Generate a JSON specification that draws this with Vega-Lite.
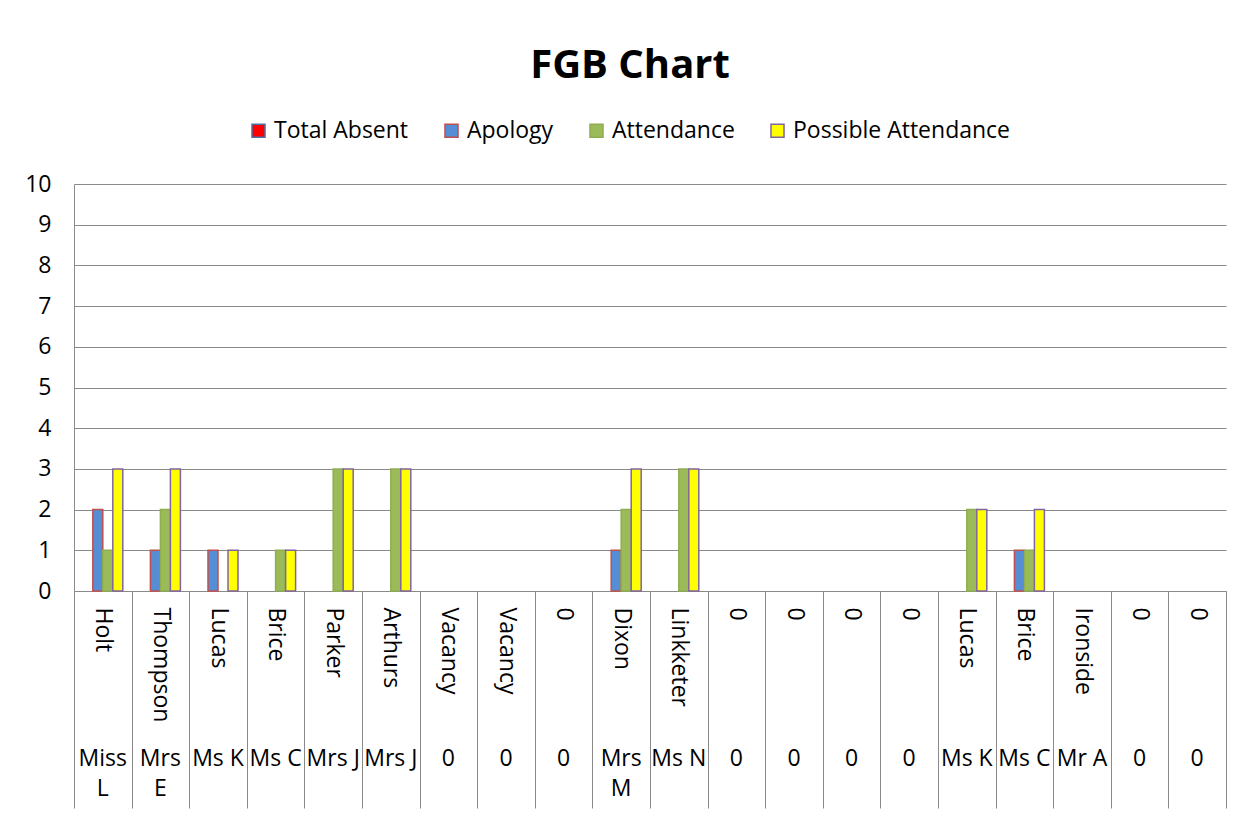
{
  "$schema": "https://vega.github.io/schema/vega-lite/v6.json",
  "width": 1152,
  "height": 407,
  "autosize": {"type": "none"},
  "padding": {"left": 74, "top": 184, "right": 20, "bottom": 227},
  "background": "white",
  "title": {
    "text": "FGB Chart",
    "font": "Open Sans",
    "fontSize": 40,
    "fontWeight": "bold",
    "color": "black",
    "anchor": "middle",
    "dx": -20,
    "offset": 33
  },
  "config": {
    "view": {"stroke": null},
    "font": "Open Sans",
    "axis": {"labelFont": "Open Sans", "labelColor": "black", "labelFontSize": 23},
    "legend": {"labelFont": "Open Sans"}
  },
  "data": {
    "values": [
      {"key": "01|Holt|Miss|L", "Total Absent": 0, "Apology": 2, "Attendance": 1, "Possible Attendance": 3},
      {"key": "02|Thompson|Mrs|E", "Total Absent": 0, "Apology": 1, "Attendance": 2, "Possible Attendance": 3},
      {"key": "03|Lucas|Ms K", "Total Absent": 0, "Apology": 1, "Attendance": 0, "Possible Attendance": 1},
      {"key": "04|Brice|Ms C", "Total Absent": 0, "Apology": 0, "Attendance": 1, "Possible Attendance": 1},
      {"key": "05|Parker|Mrs J", "Total Absent": 0, "Apology": 0, "Attendance": 3, "Possible Attendance": 3},
      {"key": "06|Arthurs|Mrs J", "Total Absent": 0, "Apology": 0, "Attendance": 3, "Possible Attendance": 3},
      {"key": "07|Vacancy|0", "Total Absent": 0, "Apology": 0, "Attendance": 0, "Possible Attendance": 0},
      {"key": "08|Vacancy|0", "Total Absent": 0, "Apology": 0, "Attendance": 0, "Possible Attendance": 0},
      {"key": "09|0|0", "Total Absent": 0, "Apology": 0, "Attendance": 0, "Possible Attendance": 0},
      {"key": "10|Dixon|Mrs|M", "Total Absent": 0, "Apology": 1, "Attendance": 2, "Possible Attendance": 3},
      {"key": "11|Linkketer|Ms N", "Total Absent": 0, "Apology": 0, "Attendance": 3, "Possible Attendance": 3},
      {"key": "12|0|0", "Total Absent": 0, "Apology": 0, "Attendance": 0, "Possible Attendance": 0},
      {"key": "13|0|0", "Total Absent": 0, "Apology": 0, "Attendance": 0, "Possible Attendance": 0},
      {"key": "14|0|0", "Total Absent": 0, "Apology": 0, "Attendance": 0, "Possible Attendance": 0},
      {"key": "15|0|0", "Total Absent": 0, "Apology": 0, "Attendance": 0, "Possible Attendance": 0},
      {"key": "16|Lucas|Ms K", "Total Absent": 0, "Apology": 0, "Attendance": 2, "Possible Attendance": 2},
      {"key": "17|Brice|Ms C", "Total Absent": 0, "Apology": 1, "Attendance": 1, "Possible Attendance": 2},
      {"key": "18|Ironside|Mr A", "Total Absent": 0, "Apology": 0, "Attendance": 0, "Possible Attendance": 0},
      {"key": "19|0|0", "Total Absent": 0, "Apology": 0, "Attendance": 0, "Possible Attendance": 0},
      {"key": "20|0|0", "Total Absent": 0, "Apology": 0, "Attendance": 0, "Possible Attendance": 0}
    ]
  },
  "transform": [
    {"fold": ["Total Absent", "Apology", "Attendance", "Possible Attendance"], "as": ["series", "value"]}
  ],
  "layer": [
    {
      "mark": {"type": "bar", "strokeWidth": 1.5},
      "encoding": {
        "x": {
          "field": "key",
          "type": "nominal",
          "sort": null,
          "scale": {"paddingInner": 0, "paddingOuter": 0},
          "axis": {
            "orient": "bottom",
            "title": null,
            "labelExpr": "split(datum.value, '|')[1]",
            "labelAngle": 90,
            "labelAlign": "left",
            "labelBaseline": "middle",
            "labelPadding": -201,
            "tickBand": "extent",
            "tickSize": 217,
            "tickColor": "#8a8a8a",
            "domainColor": "#8a8a8a",
            "labelFontSize": 23,
            "labelLimit": 300
          }
        },
        "xOffset": {
          "field": "series",
          "type": "nominal",
          "scale": {"domain": ["Total Absent", "Apology", "Attendance", "Possible Attendance"], "paddingInner": 0, "paddingOuter": 0.88}
        },
        "y": {
          "field": "value",
          "type": "quantitative",
          "scale": {"domain": [0, 10], "nice": false},
          "axis": {
            "title": null,
            "values": [0, 1, 2, 3, 4, 5, 6, 7, 8, 9, 10],
            "tickSize": 0,
            "labelPadding": 23,
            "gridColor": "#8a8a8a",
            "domainColor": "#8a8a8a",
            "labelFontSize": 23
          }
        },
        "strokeOpacity": {"condition": {"test": "datum.value > 0", "value": 1}, "value": 0},
        "color": {
          "field": "series",
          "type": "nominal",
          "scale": {
            "domain": ["Total Absent", "Apology", "Attendance", "Possible Attendance"],
            "range": ["#ff0000", "#558ed5", "#9bbb59", "#ffff00"]
          },
          "legend": {
            "orient": "none",
            "legendX": 173,
            "legendY": -65,
            "title": null,
            "direction": "horizontal",
            "symbolType": "square",
            "symbolSize": 170,
            "symbolStrokeWidth": 1.5,
            "symbolOpacity": 1,
            "labelFontSize": 23,
            "labelColor": "black",
            "labelLimit": 400,
            "columnPadding": 31
          }
        },
        "stroke": {
          "field": "series",
          "type": "nominal",
          "scale": {
            "domain": ["Total Absent", "Apology", "Attendance", "Possible Attendance"],
            "range": ["#4f6fa8", "#c0504d", "#8fae50", "#8064a2"]
          },
          "legend": {
            "orient": "none",
            "legendX": 173,
            "legendY": -65,
            "title": null,
            "direction": "horizontal",
            "symbolType": "square",
            "symbolSize": 170,
            "symbolStrokeWidth": 1.5,
            "labelFontSize": 23,
            "labelColor": "black",
            "labelLimit": 400,
            "columnPadding": 31
          }
        }
      }
    },
    {
      "mark": {"type": "tick", "opacity": 0},
      "encoding": {
        "x": {
          "field": "key",
          "type": "nominal",
          "sort": null,
          "axis": {
            "orient": "bottom",
            "title": null,
            "labelExpr": "slice(split(datum.value, '|'), 2)",
            "labelAngle": 0,
            "labelAlign": "center",
            "labelBaseline": "top",
            "labelPadding": 156,
            "labelLineHeight": 30,
            "ticks": false,
            "tickSize": 0,
            "domain": false,
            "labelFontSize": 23
          }
        },
        "y": {"field": "value", "type": "quantitative"}
      }
    }
  ],
  "resolve": {"axis": {"x": "independent"}}
}
